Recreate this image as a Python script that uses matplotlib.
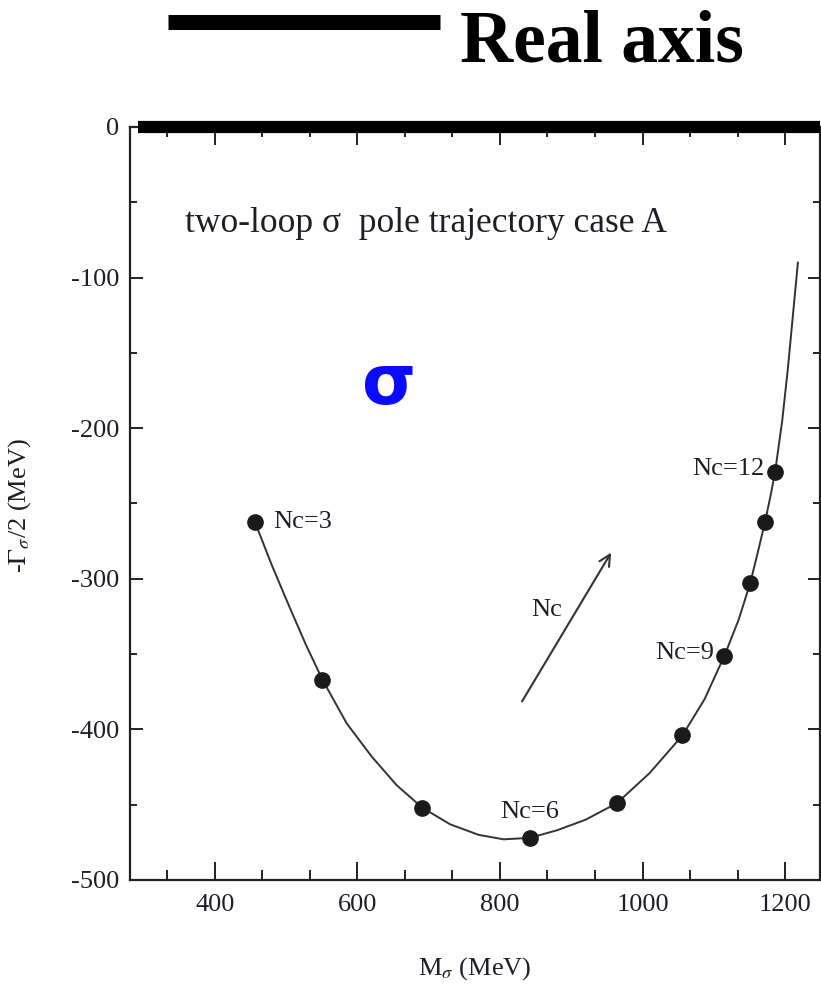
import matplotlib
matplotlib.use("Agg")
import matplotlib.pyplot as plt
from matplotlib.ticker import MultipleLocator, AutoMinorLocator

# sigma pole positions for Nc = 3 ... 12
nc_values = [3, 4, 5, 6, 7, 8, 9, 10, 11, 12]
pole_mass = [456, 551, 691, 842, 964, 1056, 1115, 1151, 1172, 1186]
pole_width = [-262, -367, -452, -472, -449, -404, -351, -303, -262, -229]

# trajectory line
curve_mass = [456, 480, 505, 528, 551, 585, 620, 655, 691, 730, 770, 805, 842,
              880, 920, 964, 1010, 1056, 1087, 1115, 1135, 1151, 1162, 1172,
              1180, 1186, 1196, 1204, 1211, 1218]
curve_width = [-262, -291, -319, -344, -367, -396, -418, -437, -452, -463, -470,
               -473, -472, -467, -460, -449, -429, -404, -380, -351, -327, -303,
               -282, -262, -244, -229, -195, -160, -125, -90]

labelled_nc = [3, 6, 9, 12]

plt.rcParams['font.family'] = ['Liberation Serif', 'DejaVu Serif']
plt.rcParams['mathtext.fontset'] = 'stix'
plt.rcParams['axes.unicode_minus'] = False
ink = '#1e1e2a'

fig = plt.figure(figsize=(8.21, 9.9), dpi=100)
ax = fig.add_axes([130 / 821, 1 - 880 / 990, 690 / 821, 753 / 990])

ax.plot(curve_mass, curve_width, color='#333333', lw=1.4, zorder=2)
ax.plot(pole_mass, pole_width, 'o', color='#1a1a1a', ms=11, zorder=3)

ax.set_xlim(281, 1249)
ax.set_ylim(-500, 0)

# real axis bar
ax.plot([292, 1249], [0, 0], color='black', lw=8.8, solid_capstyle='butt',
        clip_on=False, zorder=5)

for nc, m, w in zip(nc_values, pole_mass, pole_width):
    if nc not in labelled_nc:
        continue
    if nc == 3:
        ax.text(m + 26, w, f"Nc={nc}", fontsize=19, color=ink, va='center', ha='left')
    elif nc == 6:
        ax.text(m, w + 10, f"Nc={nc}", fontsize=19, color=ink, va='bottom', ha='center')
    else:
        ax.text(m - 15, w + 2, f"Nc={nc}", fontsize=19, color=ink, va='center', ha='right')

ax.annotate('', xy=(958, -281), xytext=(829, -383),
            arrowprops=dict(arrowstyle='->', color='#333333', lw=1.5,
                            mutation_scale=20))
ax.text(865, -321, 'Nc', fontsize=19, color=ink, ha='center', va='center')

ax.text(358, -70, 'two-loop σ  pole trajectory case A', fontsize=25.5, color=ink,
        va='baseline', ha='left')
ax.text(645, -171, 'σ', fontsize=50, color='#0a0aff', fontweight='bold',
        family='DejaVu Sans', ha='center', va='center')

ax.xaxis.set_major_locator(MultipleLocator(200))
ax.xaxis.set_minor_locator(AutoMinorLocator(3))
ax.yaxis.set_major_locator(MultipleLocator(100))
ax.yaxis.set_minor_locator(AutoMinorLocator(2))
ax.tick_params(which='both', direction='in', top=True, right=True, width=1.4,
               color='#222222', labelsize=19, labelcolor=ink)
ax.tick_params(axis='x', which='major', length=13, pad=10)
ax.tick_params(axis='x', which='minor', length=7)
ax.tick_params(axis='y', which='major', length=9, pad=8)
ax.tick_params(axis='y', which='minor', length=5)
for s in ax.spines.values():
    s.set_linewidth(1.6)
    s.set_color('#222222')

fig.text(20 / 821, 1 - 506 / 990, r'-$\Gamma_\sigma$/2 (MeV)', rotation=90,
         fontsize=19, color=ink, ha='center', va='center')
fig.text(475 / 821, 1 - 975 / 990, r'M$_\sigma$ (MeV)', fontsize=19, color=ink,
         ha='center', va='baseline')

# legend-like header
fig.add_artist(plt.Line2D([168 / 821, 440 / 821], [1 - 22 / 990, 1 - 22 / 990],
                          color='black', lw=10.8, solid_capstyle='butt'))
fig.text(460 / 821, 1 - 62 / 990, 'Real axis', fontsize=53, fontweight='bold',
         color='black', va='baseline', ha='left')

fig.savefig('out.png', dpi=100)
